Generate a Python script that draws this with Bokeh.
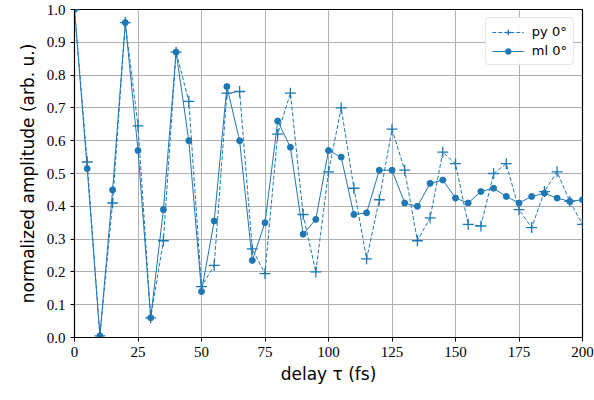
from bokeh.plotting import figure
from bokeh.models import Range1d, FixedTicker, PrintfTickFormatter, Legend, LegendItem
from bokeh.embed import file_html
from bokeh.resources import INLINE

delay = list(range(0, 205, 5))
py0 = [1.0, 0.535, 0.005, 0.41, 0.96, 0.645, 0.06, 0.295, 0.87, 0.72,
       0.155, 0.22, 0.745, 0.75, 0.27, 0.195, 0.62, 0.745, 0.375, 0.2,
       0.505, 0.70, 0.455, 0.24, 0.42, 0.635, 0.51, 0.295, 0.365, 0.565,
       0.53, 0.345, 0.34, 0.50, 0.53, 0.39, 0.335, 0.445, 0.505, 0.415, 0.345]
ml0 = [1.0, 0.515, 0.005, 0.45, 0.96, 0.57, 0.06, 0.39, 0.87, 0.60,
       0.14, 0.355, 0.765, 0.60, 0.235, 0.35, 0.66, 0.58, 0.315, 0.36,
       0.57, 0.55, 0.375, 0.38, 0.51, 0.51, 0.41, 0.40, 0.47, 0.48,
       0.425, 0.41, 0.445, 0.455, 0.43, 0.41, 0.43, 0.44, 0.425, 0.415, 0.42]
x_ticks = [0, 25, 50, 75, 100, 125, 150, 175, 200]
y_ticks = [0.0, 0.1, 0.2, 0.3, 0.4, 0.5, 0.6, 0.7, 0.8, 0.9, 1.0]

C = "#1f77b4"
p = figure(width=594, height=400, output_backend="svg", toolbar_location=None,
           x_range=Range1d(0, 200), y_range=Range1d(0, 1),
           min_border_left=74, min_border_right=12, min_border_top=9, min_border_bottom=63)
p.outline_line_color = "black"
p.outline_line_width = 1.2
p.background_fill_color = "white"
p.border_fill_color = "white"

for ax in (p.xaxis[0], p.yaxis[0]):
    ax.major_label_text_font = "Liberation Serif"
    ax.major_label_text_font_size = "15px"
    ax.major_label_text_color = "black"
    ax.axis_label_text_font = "DejaVu Sans"
    ax.axis_label_text_font_size = "17px"
    ax.axis_label_text_font_style = "normal"
    ax.axis_label_text_color = "black"
    ax.axis_line_color = "black"
    ax.major_tick_line_color = "black"
    ax.major_tick_out = 4
    ax.major_tick_in = 0
    ax.minor_tick_line_color = None

p.xaxis.ticker = FixedTicker(ticks=x_ticks)
p.yaxis.ticker = FixedTicker(ticks=y_ticks)
p.yaxis.formatter = PrintfTickFormatter(format="%.1f")
p.xaxis.axis_label = "delay τ (fs)"
p.yaxis.axis_label = "normalized amplitude (arb. u.)"
p.xaxis.axis_label_standoff = 4
p.yaxis.axis_label_standoff = 6

p.grid.grid_line_color = "#b0b0b0"
p.grid.grid_line_width = 1

l1 = p.line(delay, py0, line_color=C, line_width=1, line_dash="4 2")
m1 = p.scatter(delay, py0, marker="cross", size=11, line_color=C, line_width=1.3)
l2 = p.line(delay, ml0, line_color=C, line_width=1)
m2 = p.scatter(delay, ml0, marker="circle", size=6, fill_color=C, line_color=C)

legend = Legend(items=[LegendItem(label="py 0°", renderers=[l1, m1]),
                       LegendItem(label="ml 0°", renderers=[l2, m2])],
                location="top_right")
legend.label_text_font = "DejaVu Sans"
legend.label_text_font_size = "13px"
legend.label_text_color = "black"
legend.border_line_color = "#cccccc"
legend.border_radius = 4
legend.glyph_width = 32
legend.glyph_height = 14
legend.spacing = 4
legend.padding = 6
legend.margin = 8
legend.label_standoff = 8
p.add_layout(legend)

open("out.html", "w").write(file_html(p, INLINE))
